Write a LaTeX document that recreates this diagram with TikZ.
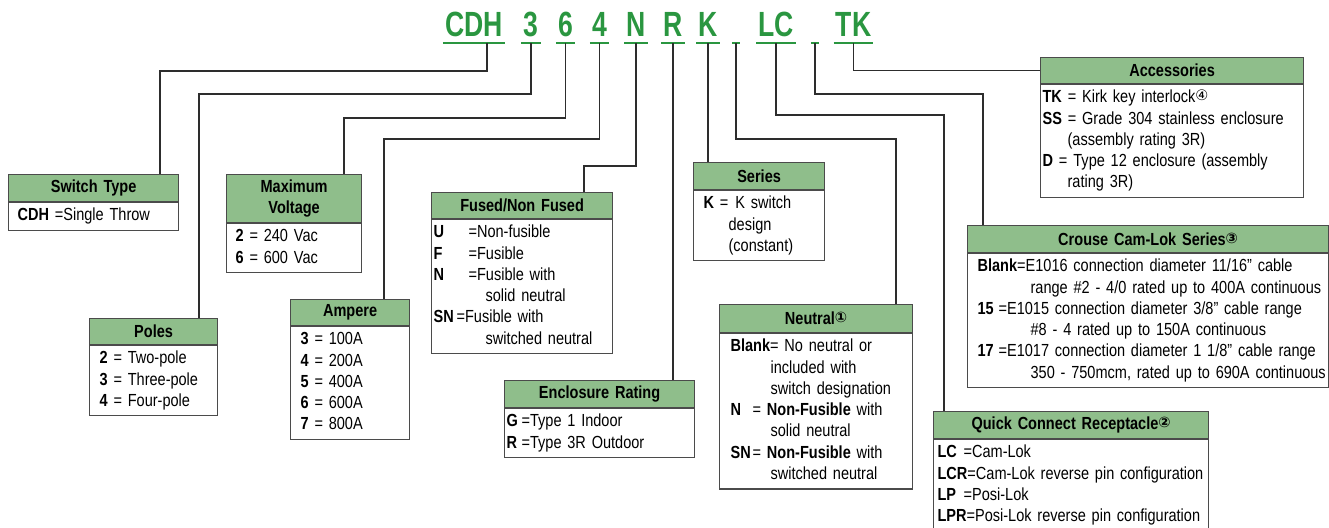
\documentclass[tikz,border=0pt]{standalone}
\usepackage{fontspec}
\setmainfont{Liberation Sans}[FakeStretch=0.83]
\newfontfamily\codefont{Liberation Sans}[FakeStretch=0.76]
\newfontfamily\symfont{DejaVu Sans}
\definecolor{headgreen}{RGB}{143,190,139}
\definecolor{codegreen}{RGB}{42,150,64}
\definecolor{boxline}{RGB}{75,75,75}
\definecolor{wireline}{RGB}{45,45,45}
\newcommand{\bodyfont}{\fontsize{17.5}{21.3}\selectfont}
\newcommand{\kw}[2]{\makebox[#2][l]{\textbf{#1}}}
\newcommand{\circnum}[1]{\raisebox{2pt}{\symfont\fontsize{14.5}{14.5}\selectfont #1}}
\newcommand{\boxlines}[1]{\begin{tabular}{@{}l@{}}#1\end{tabular}}
\begin{document}
\begin{tikzpicture}[x=1pt,y=-1pt,
    hdr/.style={draw=boxline,line width=1.2pt,fill=headgreen,anchor=north west,
      inner sep=0pt,minimum height=27pt,align=center,font=\bodyfont\bfseries},
    bodybox/.style={draw=boxline,line width=1.2pt,fill=white,anchor=north west,
      inner ysep=3pt,align=left,font=\bodyfont},
    codeltr/.style={font=\codefont\bfseries\fontsize{35}{35}\selectfont,text=codegreen,
      anchor=base,inner xsep=2pt,inner ysep=0pt,minimum width=8pt},
    uline/.style={draw=codegreen,line width=2pt},
    wire/.style={draw=wireline,line width=1.6pt}]
    \useasboundingbox (0,0) rectangle (1329,527);

    % catalogue number
    \foreach \nm/\x/\t in {Type/474/CDH,Pole/531/3,Volt/565.5/6,Amp/599.5/4,Fuse/636/N,
        Encl/673/R,Ser/708/K,Neu/736/{},QC/776/LC,Cam/815/{},Acc/853.5/TK}{
      \node[codeltr] (c\nm) at (\x,37) {\t};
      \draw[uline] ([yshift=-6pt]c\nm.base west) -- ([yshift=-6pt]c\nm.base east);
    }

    % left boxes
    \node[hdr,text width=170pt] (hType) at (8,174) {Switch Type};
    \node[bodybox,text width=152pt,inner xsep=9pt] (bType) at (hType.south west)
      {\boxlines{\textbf{CDH} =Single Throw}};
    \node[hdr,text width=135pt,minimum height=48pt] (hVolt) at (226,174) {Maximum\\Voltage};
    \node[bodybox,text width=117pt,inner xsep=9pt] (bVolt) at (hVolt.south west)
      {\boxlines{\textbf{2} = 240 Vac\\ \textbf{6} = 600 Vac}};
    \node[hdr,text width=128pt,minimum height=26pt] (hPole) at (89,318) {Poles};
    \node[bodybox,text width=108pt,inner xsep=10pt] (bPole) at (hPole.south west)
      {\boxlines{\textbf{2} = Two-pole\\ \textbf{3} = Three-pole\\ \textbf{4} = Four-pole}};
    \node[hdr,text width=119pt,minimum height=26pt] (hAmp) at (290,299) {Ampere};
    \node[bodybox,text width=99pt,inner xsep=10pt] (bAmp) at (hAmp.south west)
      {\boxlines{\textbf{3} = 100A\\ \textbf{4} = 200A\\ \textbf{5} = 400A\\
        \textbf{6} = 600A\\ \textbf{7} = 800A}};

    % middle boxes
    \node[hdr,text width=181pt,minimum height=26pt] (hFuse) at (431,192) {Fused/Non Fused};
    \node[bodybox,text width=177pt,inner xsep=2pt] (bFuse) at (hFuse.south west)
      {\boxlines{\kw{U}{35pt}=Non-fusible\\ \kw{F}{35pt}=Fusible\\ \kw{N}{35pt}=Fusible with\\
        \hspace*{52pt}solid neutral\\ \kw{SN}{23pt}=Fusible with\\ \hspace*{52pt}switched neutral}};
    \node[hdr,text width=190pt] (hEncl) at (504,380) {Enclosure Rating};
    \node[bodybox,text width=186pt,inner xsep=2pt] (bEncl) at (hEncl.south west)
      {\boxlines{\kw{G}{15pt}=Type 1 Indoor\\ \kw{R}{15pt}=Type 3R Outdoor}};
    \node[hdr,text width=131pt] (hSer) at (693,162) {Series};
    \node[bodybox,text width=111pt,inner xsep=10pt] (bSer) at (hSer.south west)
      {\boxlines{\textbf{K} =\hspace{7pt}K switch\\ \hspace*{25pt}design\\ \hspace*{25pt}(constant)}};
    \node[hdr,text width=193pt,minimum height=28pt] (hNeu) at (719,304) {Neutral\circnum{①}};
    \node[bodybox,text width=171pt,inner xsep=11pt] (bNeu) at (hNeu.south west)
      {\boxlines{\textbf{Blank}= No neutral or\\ \hspace*{40pt}included with\\
        \hspace*{40pt}switch designation\\ \kw{N}{22pt}= \textbf{Non-Fusible} with\\
        \hspace*{40pt}solid neutral\\ \kw{SN}{22pt}= \textbf{Non-Fusible} with\\
        \hspace*{40pt}switched neutral}};

    % right boxes
    \node[hdr,text width=263pt,minimum height=26pt] (hAcc) at (1040,57) {Accessories};
    \node[bodybox,text width=259pt,inner xsep=2pt] (bAcc) at (hAcc.south west)
      {\boxlines{\textbf{TK} = Kirk key interlock\circnum{④}\\
        \textbf{SS} = Grade 304 stainless enclosure\\ \hspace*{25pt}(assembly rating 3R)\\
        \textbf{D} =\hspace{6pt}Type 12 enclosure (assembly\\ \hspace*{25pt}rating 3R)}};
    \node[hdr,text width=361pt] (hCam) at (967,225) {Crouse Cam-Lok Series\circnum{③}};
    \node[bodybox,text width=341pt,inner xsep=10pt] (bCam) at (hCam.south west)
      {\boxlines{\textbf{Blank}=E1016 connection diameter 11/16” cable\\
        \hspace*{53pt}range \#2 - 4/0 rated up to 400A continuous\\
        \kw{15}{21pt}=E1015 connection diameter 3/8” cable range\\
        \hspace*{53pt}\#8 - 4 rated up to 150A continuous\\
        \kw{17}{21pt}=E1017 connection diameter 1 1/8” cable range\\
        \hspace*{53pt}350 - 750mcm, rated up to 690A continuous}};
    \node[hdr,text width=275pt] (hQC) at (933,411) {Quick Connect Receptacle\circnum{②}};
    \node[bodybox,text width=267pt,inner xsep=4pt] (bQC) at (hQC.south west)
      {\boxlines{\kw{LC}{26pt}=Cam-Lok\\ \textbf{LCR}=Cam-Lok reverse pin configuration\\
        \kw{LP}{26pt}=Posi-Lok\\ \textbf{LPR}=Posi-Lok reverse pin configuration}};

    % leader lines
    \draw[wire] ([shift={(13pt,-6pt)}]cType.base) -- ++(0,28) -| ([xshift=152pt]hType.north west);
    \draw[wire] ([yshift=-6pt]cPole.base) -- ++(0,51) -| ([xshift=110pt]hPole.north west);
    \draw[wire] ([yshift=-6pt]cVolt.base) -- ++(0,75) -| ([xshift=118pt]hVolt.north west);
    \draw[wire] ([yshift=-6pt]cAmp.base) -- ++(0,96) -| ([xshift=94pt]hAmp.north west);
    \draw[wire] ([yshift=-6pt]cFuse.base) -- ++(0,123) -| ([xshift=153pt]hFuse.north west);
    \draw[wire] ([yshift=-6pt]cEncl.base) -- (cEncl.base |- hEncl.north);
    \draw[wire] ([yshift=-6pt]cSer.base) -- (cSer.base |- hSer.north);
    \draw[wire] ([yshift=-6pt]cNeu.base) -- ++(0,96) -| ([xshift=177pt]hNeu.north west);
    \draw[wire] ([yshift=-6pt]cQC.base) -- ++(0,72) -| ([xshift=11pt]hQC.north west);
    \draw[wire] ([yshift=-6pt]cCam.base) -- ++(0,51) -| ([xshift=16pt]hCam.north west);
    \draw[wire] ([yshift=-6pt]cAcc.base) |- (hAcc.west);
\end{tikzpicture}
\end{document}
